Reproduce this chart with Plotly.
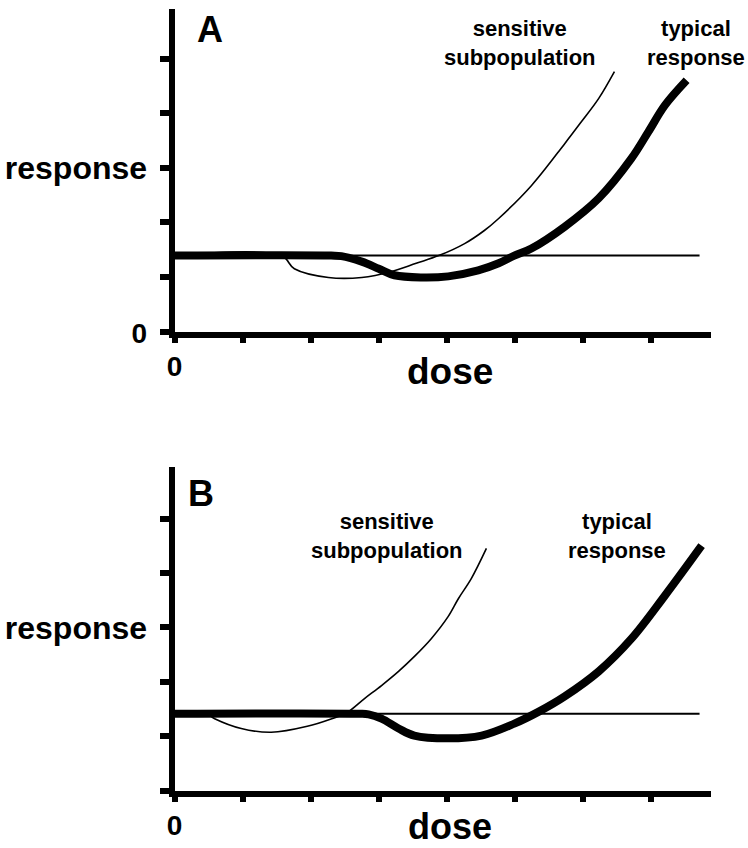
import plotly.graph_objects as go

# ---------------- data ----------------
# Panel A
a_base_x = [0, 7.71]
a_base_y = [1.39, 1.39]
a_typ_x = [0, 2.30, 2.45, 2.75, 3.00, 3.23, 3.63, 4.02, 4.46, 4.76, 4.99, 5.24, 5.73, 6.23, 6.71, 6.96, 7.20, 7.52]
a_typ_y = [1.39, 1.39, 1.38, 1.28, 1.15, 1.03, 0.99, 1.01, 1.12, 1.25, 1.39, 1.52, 1.92, 2.44, 3.17, 3.66, 4.14, 4.60]
a_sens_x = [0, 1.57, 1.76, 2.26, 2.75, 3.19, 3.55, 3.88, 4.26, 4.55, 4.76, 5.24, 5.73, 5.98, 6.23, 6.46]
a_sens_y = [1.39, 1.39, 1.15, 0.99, 0.99, 1.10, 1.25, 1.39, 1.61, 1.85, 2.07, 2.67, 3.44, 3.85, 4.27, 4.76]

# Panel B
b_base_x = [0, 7.71]
b_base_y = [1.41, 1.41]
b_typ_x = [0, 2.70, 2.85, 3.04, 3.29, 3.52, 4.02, 4.51, 4.99, 5.35, 5.73, 6.23, 6.71, 7.20, 7.74]
b_typ_y = [1.41, 1.41, 1.40, 1.32, 1.14, 1.01, 0.96, 1.01, 1.23, 1.45, 1.73, 2.19, 2.79, 3.58, 4.50]
b_sens_x = [0, 0.47, 0.59, 0.98, 1.42, 1.95, 2.31, 2.53, 2.79, 3.04, 3.29, 3.52, 3.77, 4.02, 4.17, 4.36, 4.58]
b_sens_y = [1.41, 1.41, 1.32, 1.14, 1.07, 1.18, 1.32, 1.43, 1.69, 1.93, 2.19, 2.46, 2.79, 3.20, 3.53, 3.90, 4.45]

x_ticks = [0, 1, 2, 3, 4, 5, 6, 7]
x_ticktext = ["0", "", "", "", "", "", "", ""]
y_ticks = [0, 1, 2, 3, 4, 5]
a_y_ticktext = ['<span style="font-size:28px">0</span>', "", "", "response", "", ""]
b_y_ticktext = ["", "", "", "response", "", ""]
dose_label_x = 4.05

FONT = "Liberation Sans, Arial, sans-serif"

fig = go.Figure()

def add_panel(xa, ya, bx, by, tx, ty, sx, sy):
    fig.add_trace(go.Scatter(x=bx, y=by, mode="lines", xaxis=xa, yaxis=ya,
                             line=dict(color="black", width=2), hoverinfo="skip"))
    fig.add_trace(go.Scatter(x=sx, y=sy, mode="lines", xaxis=xa, yaxis=ya,
                             line=dict(color="black", width=1.6, shape="spline", smoothing=1.0),
                             hoverinfo="skip"))
    fig.add_trace(go.Scatter(x=tx, y=ty, mode="lines", xaxis=xa, yaxis=ya,
                             line=dict(color="black", width=8, shape="spline", smoothing=1.0),
                             hoverinfo="skip"))

add_panel("x", "y", a_base_x, a_base_y, a_typ_x, a_typ_y, a_sens_x, a_sens_y)
add_panel("x2", "y2", b_base_x, b_base_y, b_typ_x, b_typ_y, b_sens_x, b_sens_y)

W, H = 748, 848
xdom = [174.5 / W, 711 / W]
xr = [0, (711 - 174.5) / 68.1]

def xaxis_cfg(anchor):
    return dict(domain=xdom, range=xr, anchor=anchor, showline=True, linewidth=6,
                linecolor="black", showgrid=False, zeroline=False, automargin=False,
                tickmode="array", tickvals=x_ticks, ticktext=x_ticktext,
                ticks="outside", ticklen=5, tickwidth=6, tickcolor="black",
                tickfont=dict(family=FONT, size=28, color="black", weight="bold"),
                fixedrange=True)

def yaxis_cfg(anchor, bottom_px, top_px, ticktext, scale):
    return dict(domain=[1 - bottom_px / H, 1 - top_px / H],
                range=[0, (bottom_px - top_px) / scale], anchor=anchor,
                showline=True, linewidth=6, linecolor="black", showgrid=False,
                zeroline=False, automargin=False, tickmode="array", tickvals=y_ticks,
                ticktext=ticktext, ticklabelstandoff=6,
                ticks="outside", ticklen=9, tickwidth=6, tickcolor="black",
                tickfont=dict(family=FONT, size=32, color="black", weight="bold"),
                fixedrange=True)

fig.update_layout(
    template="none",
    width=W, height=H, margin=dict(l=0, r=0, t=0, b=0, autoexpand=False),
    paper_bgcolor="white", plot_bgcolor="white", showlegend=False,
    xaxis=xaxis_cfg("y"),
    yaxis=yaxis_cfg("x", 331.5, 9, a_y_ticktext, 54.6),
    xaxis2=xaxis_cfg("y2"),
    yaxis2=yaxis_cfg("x2", 790.5, 467, b_y_ticktext, 54.4),
)

def ann(text, x, y, size, xref="paper", yref="paper"):
    fig.add_annotation(text=text, x=x, y=y, xref=xref, yref=yref, showarrow=False,
                       xanchor="center", yanchor="middle", align="center",
                       font=dict(family=FONT, size=size, color="black", weight="bold"))

# panel letters
ann("A", 210 / W, 1 - 30 / H, 36)
ann("B", 201 / W, 1 - 494 / H, 36)
# curve labels
ann("sensitive<br>subpopulation", 520 / W, 1 - 43.5 / H, 22)
ann("typical<br>response", 696 / W, 1 - 43.5 / H, 22)
ann("sensitive<br>subpopulation", 387 / W, 1 - 535.5 / H, 22)
ann("typical<br>response", 617 / W, 1 - 535.5 / H, 22)
# x axis labels
ann("dose", dose_label_x, 1 - 371 / H, 37, xref="x")
ann("dose", dose_label_x, 1 - 826.5 / H, 36, xref="x2")

fig.write_html(
    "out.html",
    config={"displayModeBar": False},
    post_script="document.body.style.margin='0px'; document.body.style.overflow='hidden';",
)
